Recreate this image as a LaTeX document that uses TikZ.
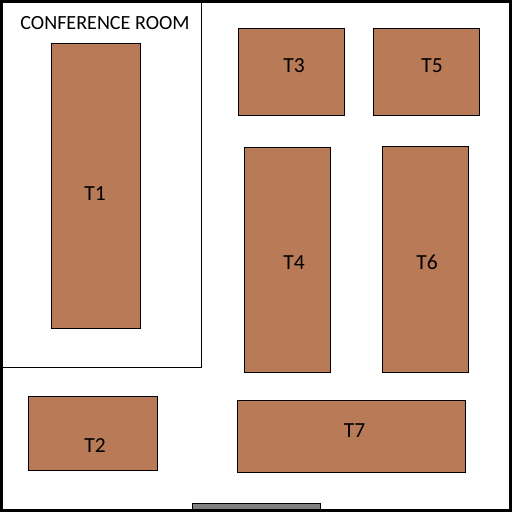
\documentclass[tikz,border=0pt]{standalone}
\usepackage{fontspec}
\setmainfont{Carlito}
\definecolor{tbl}{HTML}{B97A57}
\tikzset{
  tablebox/.style={draw=black,fill=tbl,line width=1pt,inner sep=0pt,anchor=north west},
  lbl/.style={font=\fontsize{21.5}{22}\selectfont,text=black,inner sep=0pt},
}
\newcommand{\tb}[5]{\node[tablebox,minimum width=#4*1pt,minimum height=#5*1pt] (#1) at (#2pt,-#3pt) {};}
\begin{document}
\begin{tikzpicture}[x=1pt,y=1pt]
\useasboundingbox (0,-512) rectangle (512,0);
\fill[white] (0,-512) rectangle (512,0);
\draw[line width=3pt,fill=white] (1.5,-1.5) rectangle (510.5,-510.5);
\draw[line width=1pt] (2,-367.5) -- (201.5,-367.5) -- (201.5,-2);
\tb{t1}{51}{43}{89}{285}
\tb{t2}{28}{396}{129}{74}
\tb{t3}{238}{28}{106}{87}
\tb{t4}{244}{147}{86}{225}
\tb{t5}{373}{28}{106}{87}
\tb{t6}{382}{146}{86}{226}
\tb{t7}{237}{400}{228}{72}
\fill[fill=gray,draw=black,line width=1pt] (192.5,-509) rectangle (320.5,-503.5);
\node[lbl] (n1) at (95,-193.5) {T1};
\node[lbl] (n2) at (95,-445.5) {T2};
\node[lbl] (n3) at (294,-65.5) {T3};
\node[lbl] (n4) at (294,-262.5) {T4};
\node[lbl] (n5) at (432,-65.5) {T5};
\node[lbl] (n6) at (427,-262.5) {T6};
\node[lbl] (n7) at (354.5,-430.5) {T7};
\node[lbl,font=\fontsize{20.1}{20}\selectfont] (cr) at (105,-23) {CONFERENCE ROOM};
\end{tikzpicture}
\end{document}
